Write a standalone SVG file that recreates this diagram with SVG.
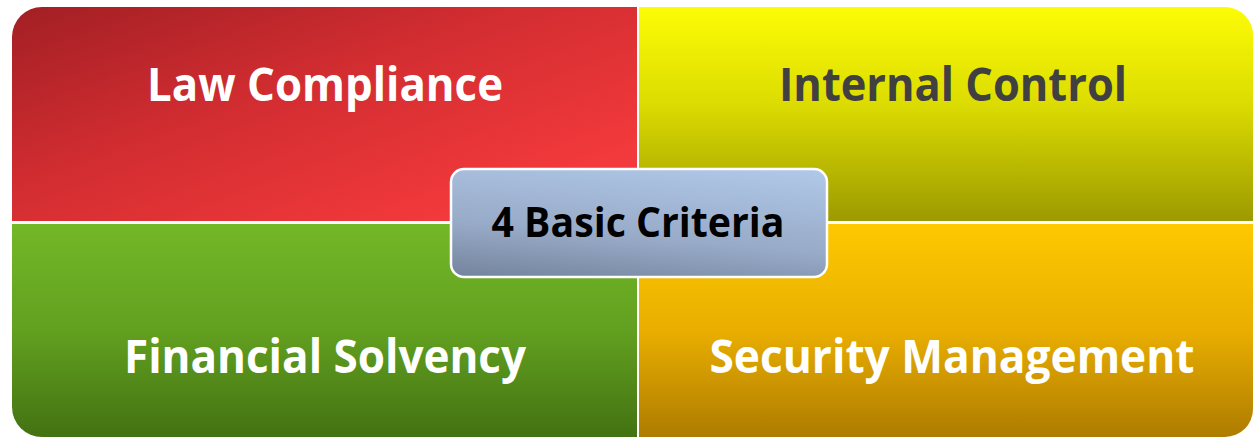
<svg xmlns="http://www.w3.org/2000/svg" width="1253" height="437" viewBox="0 0 1253 437">
<defs>
<linearGradient id="gRed" gradientUnits="userSpaceOnUse" x1="12" y1="7" x2="130" y2="330">
<stop offset="0" stop-color="#a21f24"/><stop offset="0.5" stop-color="#d22d31"/><stop offset="1" stop-color="#f2393b"/>
</linearGradient>
<linearGradient id="gYel" x1="0" y1="0" x2="0" y2="1">
<stop offset="0" stop-color="#fcfc05"/><stop offset="0.45" stop-color="#dcdc02"/><stop offset="1" stop-color="#9c9a00"/>
</linearGradient>
<linearGradient id="gGrn" x1="0" y1="0" x2="0" y2="1">
<stop offset="0" stop-color="#73b827"/><stop offset="0.5" stop-color="#62a020"/><stop offset="1" stop-color="#437212"/>
</linearGradient>
<linearGradient id="gOrg" x1="0" y1="0" x2="0" y2="1">
<stop offset="0" stop-color="#fdc900"/><stop offset="0.5" stop-color="#e9ae00"/><stop offset="1" stop-color="#ae7c00"/>
</linearGradient>
<linearGradient id="gBlu" x1="1" y1="0" x2="0.6" y2="1.3">
<stop offset="0" stop-color="#b1c9e9"/><stop offset="0.55" stop-color="#98abc8"/><stop offset="1" stop-color="#6c7a93"/>
</linearGradient>
<style>
.t{font-family:"Open Sans","Noto Sans","Liberation Sans",sans-serif;font-weight:bold;text-anchor:middle;}
.w{fill:#ffffff;}
</style>
</defs>
<g id="law-compliance">
<path d="M12,221 V37 A30,30 0 0 1 42,7 H637 V221 Z" fill="url(#gRed)"/>
<text class="t w" x="325" y="101" font-size="46" textLength="356" lengthAdjust="spacingAndGlyphs">Law Compliance</text>
</g>
<g id="internal-control">
<path d="M639,7 H1225 A28,28 0 0 1 1253,35 V221 H639 Z" fill="url(#gYel)"/>
<text class="t" x="953" y="101" font-size="46" fill="#404040" textLength="348" lengthAdjust="spacingAndGlyphs">Internal Control</text>
</g>
<g id="financial-solvency">
<path d="M12,224 H637 V437 H42 A30,30 0 0 1 12,407 Z" fill="url(#gGrn)"/>
<text class="t w" x="325" y="373" font-size="46" textLength="402" lengthAdjust="spacingAndGlyphs">Financial Solvency</text>
</g>
<g id="security-management">
<path d="M639,224 H1253 V409 A28,28 0 0 1 1225,437 H639 Z" fill="url(#gOrg)"/>
<text class="t w" x="952" y="373" font-size="46" textLength="485" lengthAdjust="spacingAndGlyphs">Security Management</text>
</g>
<g id="connectors"></g>
<g id="basic-criteria">
<rect x="451" y="169" width="376" height="108" rx="13" ry="13" fill="url(#gBlu)" stroke="#ffffff" stroke-width="2.5"/>
<text class="t" x="638" y="237" font-size="42" fill="#000000" textLength="293" lengthAdjust="spacingAndGlyphs">4 Basic Criteria</text>
</g>
</svg>
